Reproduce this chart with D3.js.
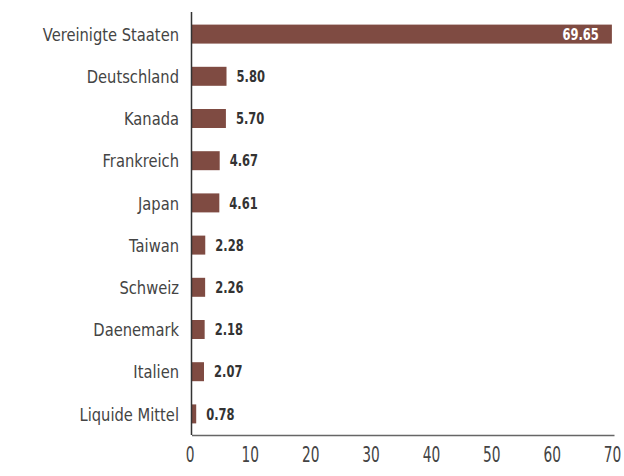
<!DOCTYPE html>
<html><head><meta charset="utf-8">
<script src="https://cdn.jsdelivr.net/npm/d3@7"></script>
<style>
body{margin:0;background:#fff;}
text{font-family:"DejaVu Sans",sans-serif;}
</style></head>
<body><svg id="c" width="624" height="476"></svg>
<script>
const categories=["Vereinigte Staaten","Deutschland","Kanada","Frankreich","Japan","Taiwan","Schweiz","Daenemark","Italien","Liquide Mittel"];
const values=[69.65,5.80,5.70,4.67,4.61,2.28,2.26,2.18,2.07,0.78];
const tickValues=[0,10,20,30,40,50,60,70];

const svg=d3.select("#c");
const x=d3.scaleLinear().domain([0,70]).range([191.5,614]);
const y=d3.scaleBand().domain(categories).range([13,435]).paddingInner(0.55).paddingOuter(0.275);

svg.selectAll("rect.bar").data(values).enter().append("rect")
 .attr("x",x(0)).attr("y",(d,i)=>y(categories[i]))
 .attr("width",d=>x(d)-x(0)).attr("height",y.bandwidth())
 .attr("fill","#7f4b42");

svg.selectAll("g.cat").data(categories).enter().append("g")
 .attr("transform",d=>`translate(179,${y(d)+y.bandwidth()/2}) scale(0.795,1)`)
 .append("text").attr("dy","0.36em")
 .attr("text-anchor","end").attr("font-size",18.5).attr("fill","#444").text(d=>d);

svg.selectAll("g.val").data(values).enter().append("g")
 .attr("transform",(d,i)=>`translate(${i===0?x(d)-13:x(d)+10},${y(categories[i])+y.bandwidth()/2}) scale(0.72,1)`)
 .append("text").attr("dy","0.36em")
 .attr("text-anchor",(d,i)=>i===0?"end":"start")
 .attr("font-size",16).attr("font-weight","bold")
 .attr("fill",(d,i)=>i===0?"#fff":"#333").text(d=>d.toFixed(2));

// axes
const xAxis=d3.axisBottom(x).tickValues(tickValues).tickSize(0).tickPadding(0).tickFormat(d3.format("d"));
const gx=svg.append("g").attr("transform","translate(0,435)").call(xAxis);
gx.select(".domain").attr("stroke","#666").attr("stroke-width",1.5);
gx.selectAll(".tick text").attr("font-size",21.5).attr("fill","#444")
 .attr("y",0).attr("dy",0)
 .attr("transform","translate(-2,27) scale(0.64,1)")
 .style("font-family",'"DejaVu Sans",sans-serif');

svg.append("line").attr("x1",x(0)).attr("x2",x(0)).attr("y1",12).attr("y2",435)
 .attr("stroke","#333").attr("stroke-width",1.5);
</script></body></html>
